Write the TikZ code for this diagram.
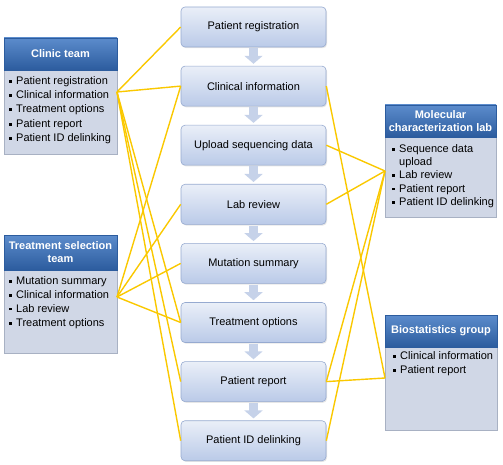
\documentclass[tikz,border=0pt]{standalone}
\usepackage{fontspec}
\setmainfont{Liberation Sans}
\usetikzlibrary{shadows,arrows.meta}
\definecolor{linkgold}{RGB}{250,200,0}
\definecolor{stepTop}{RGB}{234,239,248}
\definecolor{stepBot}{RGB}{186,202,232}
\definecolor{stepBorder}{RGB}{150,170,208}
\definecolor{headTop}{RGB}{92,140,204}
\definecolor{headBot}{RGB}{44,92,158}
\definecolor{bodyFill}{RGB}{208,215,230}
\definecolor{bodyBorder}{RGB}{168,177,195}
\definecolor{flowArrow}{RGB}{198,210,233}
\newcommand{\itmark}{\rule[2.1pt]{2.6pt}{2.6pt}\hspace{4.4pt}}
\begin{document}
\begin{tikzpicture}[x=1pt,y=-1pt,
  font=\fontsize{11}{13}\selectfont,
  stepbox/.style={rectangle, rounded corners=4pt, minimum width=145pt, minimum height=40pt,
    draw=stepBorder, line width=0.6pt, top color=stepTop, bottom color=stepBot, inner sep=0pt,
    drop shadow={opacity=0.2,shadow xshift=1pt,shadow yshift=-1.2pt}},
  headbox/.style={rectangle, draw=headBot, line width=0.4pt, top color=headTop, bottom color=headBot,
    text=white, font=\fontsize{11}{13}\selectfont\bfseries, align=center, inner sep=0pt},
  bodybox/.style={rectangle, draw=bodyBorder, line width=0.5pt, fill=bodyFill, inner sep=0pt,
    drop shadow={opacity=0.2,shadow xshift=1.2pt,shadow yshift=-1.2pt}},
  listitem/.style={anchor=west, inner sep=0pt, text height=8pt, text depth=2.5pt},
  link/.style={draw=linkgold, line width=1.4pt},
  flow/.style={draw=flowArrow, line width=9pt, -{Triangle[width=18pt,length=8pt]},
    shorten <=1pt, shorten >=2pt}
]
\useasboundingbox (0,0) rectangle (503,465);

% central process boxes
\node[stepbox] (b1) at (253.5,27)    {Patient registration};
\node[stepbox] (b2) at (253.5,86.1)  {Clinical information};
\node[stepbox] (b3) at (253.5,145.2) {Upload sequencing data};
\node[stepbox] (b4) at (253.5,204.3) {Lab review};
\node[stepbox] (b5) at (253.5,263.4) {Mutation summary};
\node[stepbox] (b6) at (253.5,322.5) {Treatment options};
\node[stepbox] (b7) at (253.5,381.6) {Patient report};
\node[stepbox] (b8) at (253.5,440.7) {Patient ID delinking};

\foreach \a/\b in {1/2,2/3,3/4,4/5,5/6,6/7,7/8}
  \draw[flow] (b\a) -- (b\b);

% Clinic team
\node[bodybox, minimum width=113pt, minimum height=84pt] (clinicbody) at (60.5,112) {};
\node[headbox, minimum width=113pt, minimum height=32pt] (clinichead) at (60.5,54) {Clinic team};
\node[listitem] (ci1) at (9,82)  {\itmark Patient registration};
\node[listitem] (ci2) at (9,96)  {\itmark Clinical information};
\node[listitem] (ci3) at (9,110) {\itmark Treatment options};
\node[listitem] (ci4) at (9,125) {\itmark Patient report};
\node[listitem] (ci5) at (9,139) {\itmark Patient ID delinking};

% Treatment selection team
\node[bodybox, minimum width=113pt, minimum height=83pt] (treatbody) at (60.5,311.5) {};
\node[headbox, minimum width=113pt, minimum height=35pt] (treathead) at (60.5,252.5) {Treatment selection\\team};
\node[listitem] (ti1) at (9,282) {\itmark Mutation summary};
\node[listitem] (ti2) at (9,296) {\itmark Clinical information};
\node[listitem] (ti3) at (9,309.5) {\itmark Lab review};
\node[listitem] (ti4) at (9,324) {\itmark Treatment options};

% Molecular characterization lab
\node[bodybox, minimum width=111pt, minimum height=80pt] (molbody) at (440.5,177) {};
\node[headbox, minimum width=111pt, minimum height=32pt] (molhead) at (440.5,121) {Molecular\\characterization lab};
\node[listitem] (mi1) at (392,150) {\itmark Sequence data};
\node[listitem] (mi2) at (399,163) {upload};
\node[listitem] (mi3) at (392,176) {\itmark Lab review};
\node[listitem] (mi4) at (392,189.5) {\itmark Patient report};
\node[listitem] (mi5) at (392,203) {\itmark Patient ID delinking};

% Biostatistics group
\node[bodybox, minimum width=112pt, minimum height=83pt] (biobody) at (441,388.5) {};
\node[headbox, minimum width=112pt, minimum height=32pt] (biohead) at (441,331) {Biostatistics group};
\node[listitem] (bi1) at (393,357) {\itmark Clinical information};
\node[listitem] (bi2) at (393,371) {\itmark Patient report};

% junction points
\coordinate (cj) at (117,92);
\coordinate (tj) at (117,297);
\coordinate (mj) at (385,171);
\coordinate (bj) at (385,378);

% connectors
\foreach \k in {1,2,6,7,8} \draw[link] (cj) -- (b\k.west);
\foreach \k in {2,4,5,6} \draw[link] (tj) -- (b\k.west);
\foreach \k in {3,4,7,8} \draw[link] (mj) -- (b\k.east);
\foreach \k in {2,7} \draw[link] (bj) -- (b\k.east);
\end{tikzpicture}
\end{document}
